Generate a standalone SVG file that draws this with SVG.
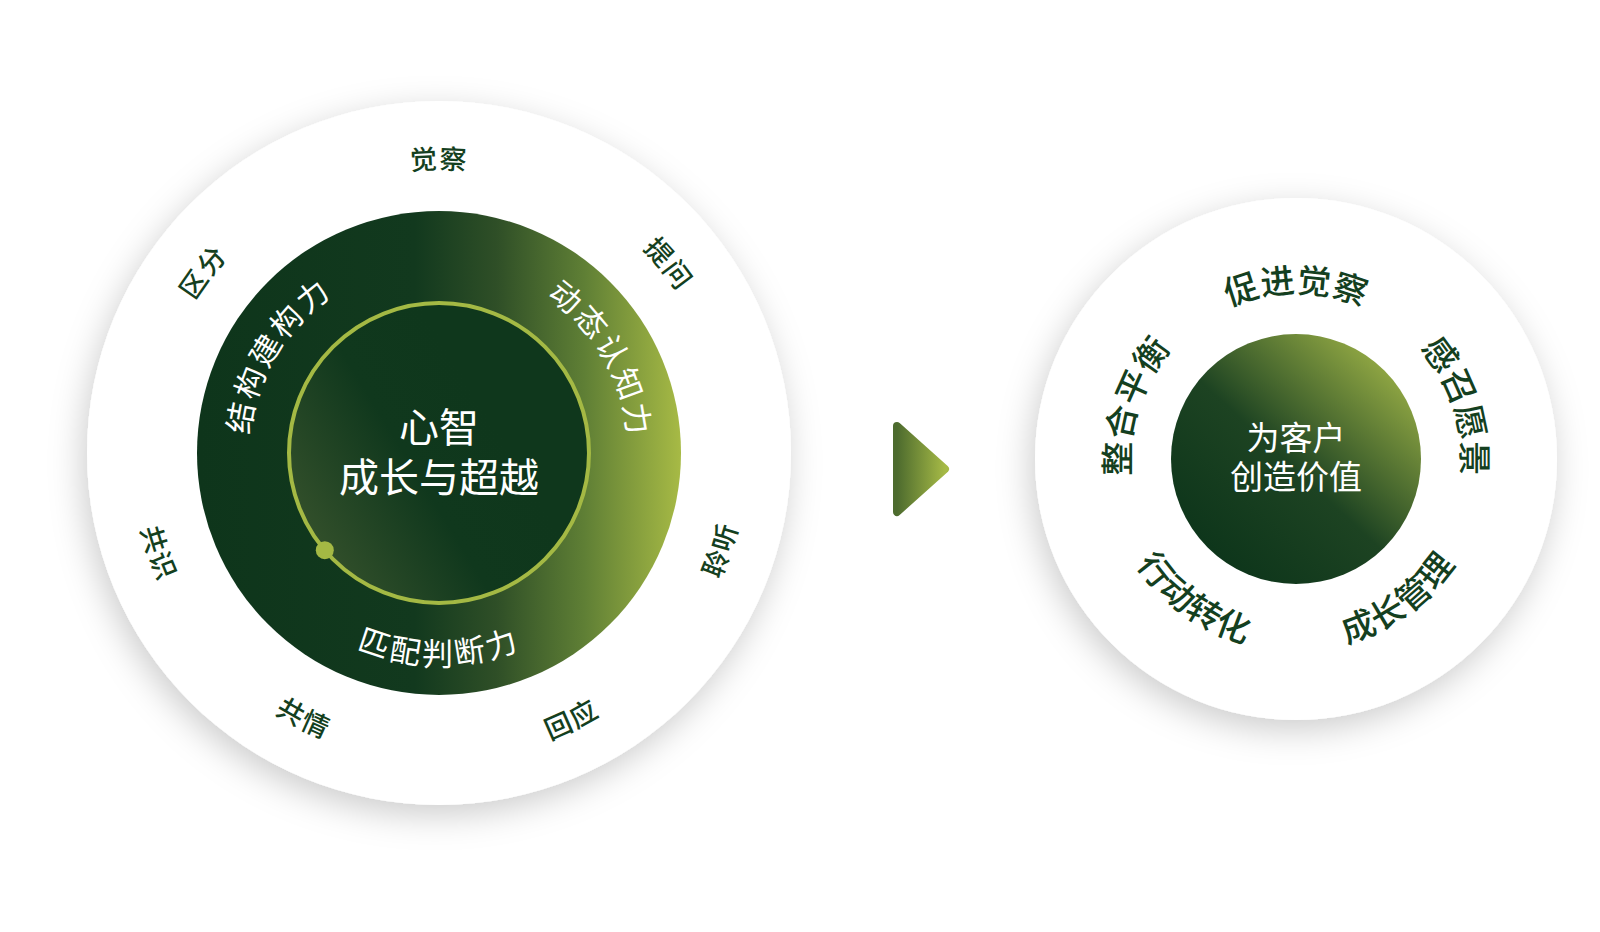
<svg xmlns="http://www.w3.org/2000/svg" xmlns:xlink="http://www.w3.org/1999/xlink" width="1600" height="932" viewBox="0 0 1600 932">
<style>
.lbl{font-family:"Noto Sans CJK SC","Noto Sans",sans-serif;fill:#143f20;font-size:27px;font-weight:500;letter-spacing:1.5px}
.rlbl{font-family:"Noto Sans CJK SC","Noto Sans",sans-serif;fill:#143f20;font-size:34px;font-weight:500;letter-spacing:0.5px}
.ring{font-family:"Noto Sans CJK SC","Noto Sans",sans-serif;fill:#ffffff;font-size:31px;letter-spacing:3px}
.ctr{font-family:"Noto Sans CJK SC","Noto Sans",sans-serif;fill:#ffffff;text-anchor:middle}
</style>
<defs>
<filter id="sh" x="-25%" y="-25%" width="150%" height="150%">
<feDropShadow dx="-4" dy="10" stdDeviation="17" flood-color="#000" flood-opacity="0.2"/>
</filter>
<linearGradient id="gDark" x1="0" y1="0" x2="1" y2="0">
<stop offset="0" stop-color="#0e351b"/>
<stop offset="0.45" stop-color="#12391e"/>
<stop offset="0.62" stop-color="#2f4f27"/>
<stop offset="0.8" stop-color="#5f7f35"/>
<stop offset="1" stop-color="#a7ba45"/>
</linearGradient>
<linearGradient id="gInner" x1="0" y1="0.75" x2="0.65" y2="0.35">
<stop offset="0" stop-color="#36522c"/>
<stop offset="0.6" stop-color="#10381d"/>
<stop offset="1" stop-color="#0f371c"/>
</linearGradient>
<linearGradient id="gRight" x1="0.15" y1="0.85" x2="0.85" y2="0.1">
<stop offset="0" stop-color="#0e361b"/>
<stop offset="0.45" stop-color="#1d4322"/>
<stop offset="1" stop-color="#93a944"/>
</linearGradient>
<linearGradient id="gArrow" x1="0" y1="0" x2="1" y2="0">
<stop offset="0" stop-color="#4d6b2e"/>
<stop offset="1" stop-color="#a6ba46"/>
</linearGradient>
<path id="p1" d="M314.3,596.4 A190,190 0 0 1 507.1,275.6"/>
<path id="p2" d="M374.0,274.5 A190,190 0 0 1 561.1,598.5"/>
<path id="p3" d="M230.2,489.8 A212,212 0 0 0 647.8,489.8"/>
<path id="l1" d="M191.3,310 A288,288 0 0 1 686.7,310"/>
<path id="l2" d="M391.5,168.9 A288,288 0 0 1 708.8,553.9"/>
<path id="l3" d="M497.8,755.3 A308,308 0 0 0 671.4,250.9"/>
<path id="l4" d="M268.6,709.5 A308,308 0 0 0 746.4,472.3"/>
<path id="l5" d="M131.4,469.1 A308,308 0 0 0 606.7,711.3"/>
<path id="l6" d="M204.5,253.4 A308,308 0 0 0 383.4,755.9"/>
<path id="l7" d="M172.9,563.2 A288,288 0 0 1 476.6,167.5"/>
<path id="r1" d="M1132.5,430.2 A166,166 0 0 1 1459.5,430.2"/>
<path id="r2" d="M1272.9,294.6 A166,166 0 0 1 1373.9,605.6"/>
<path id="r3" d="M1163.3,596.4 A191,191 0 0 0 1467.7,375.3"/>
<path id="r4" d="M1124.3,375.3 A191,191 0 0 0 1428.7,596.4"/>
<path id="r5" d="M1218.1,605.6 A166,166 0 0 1 1319.1,294.6"/>
</defs>
<rect width="1600" height="932" fill="#ffffff"/>

<g id="left-diagram">
<circle cx="439" cy="453" r="352" fill="#ffffff" filter="url(#sh)"/>
<g id="node-core-ring">
<circle cx="439" cy="453" r="242" fill="url(#gDark)"/>
<text class="ring"><textPath href="#p1" xlink:href="#p1" startOffset="50%" text-anchor="middle">结构建构力</textPath></text>
<text class="ring"><textPath href="#p2" xlink:href="#p2" startOffset="50%" text-anchor="middle">动态认知力</textPath></text>
<text class="ring"><textPath href="#p3" xlink:href="#p3" startOffset="50%" text-anchor="middle">匹配判断力</textPath></text>
</g>
<g id="node-core">
<circle cx="439" cy="453" r="150" fill="url(#gInner)" stroke="#a4b944" stroke-width="4"/>
<circle cx="324.8" cy="550.2" r="9" fill="#a4b944"/>
<text class="ctr" x="439" y="442" font-size="40">心智</text>
<text class="ctr" x="439" y="492" font-size="40">成长与超越</text>
</g>
<g id="node-juecha"><text class="lbl"><textPath href="#l1" xlink:href="#l1" startOffset="50%" text-anchor="middle">觉察</textPath></text></g>
<g id="node-tiwen"><text class="lbl"><textPath href="#l2" xlink:href="#l2" startOffset="50%" text-anchor="middle">提问</textPath></text></g>
<g id="node-lingting"><text class="lbl"><textPath href="#l3" xlink:href="#l3" startOffset="50%" text-anchor="middle">聆听</textPath></text></g>
<g id="node-huiying"><text class="lbl"><textPath href="#l4" xlink:href="#l4" startOffset="50%" text-anchor="middle">回应</textPath></text></g>
<g id="node-gongqing"><text class="lbl"><textPath href="#l5" xlink:href="#l5" startOffset="50%" text-anchor="middle">共情</textPath></text></g>
<g id="node-gongshi"><text class="lbl"><textPath href="#l6" xlink:href="#l6" startOffset="50%" text-anchor="middle">共识</textPath></text></g>
<g id="node-qufen"><text class="lbl"><textPath href="#l7" xlink:href="#l7" startOffset="50%" text-anchor="middle">区分</textPath></text></g>
</g>

<g id="connectors">
<polygon points="897,426 945,469 897,512" fill="url(#gArrow)" stroke="url(#gArrow)" stroke-width="8" stroke-linejoin="round"/>
</g>

<g id="right-diagram">
<circle cx="1296" cy="459" r="261" fill="#ffffff" filter="url(#sh)"/>
<g id="node-value">
<circle cx="1296" cy="459" r="125" fill="url(#gRight)"/>
<text class="ctr" x="1296" y="450" font-size="33">为客户</text>
<text class="ctr" x="1296" y="489" font-size="33">创造价值</text>
</g>
<g id="node-cujin"><text class="rlbl"><textPath href="#r1" xlink:href="#r1" startOffset="50%" text-anchor="middle">促进觉察</textPath></text></g>
<g id="node-ganzhao"><text class="rlbl"><textPath href="#r2" xlink:href="#r2" startOffset="50%" text-anchor="middle">感召愿景</textPath></text></g>
<g id="node-chengzhang"><text class="rlbl"><textPath href="#r3" xlink:href="#r3" startOffset="50%" text-anchor="middle">成长管理</textPath></text></g>
<g id="node-xingdong"><text class="rlbl"><textPath href="#r4" xlink:href="#r4" startOffset="50%" text-anchor="middle">行动转化</textPath></text></g>
<g id="node-zhenghe"><text class="rlbl"><textPath href="#r5" xlink:href="#r5" startOffset="50%" text-anchor="middle">整合平衡</textPath></text></g>
</g>
</svg>
